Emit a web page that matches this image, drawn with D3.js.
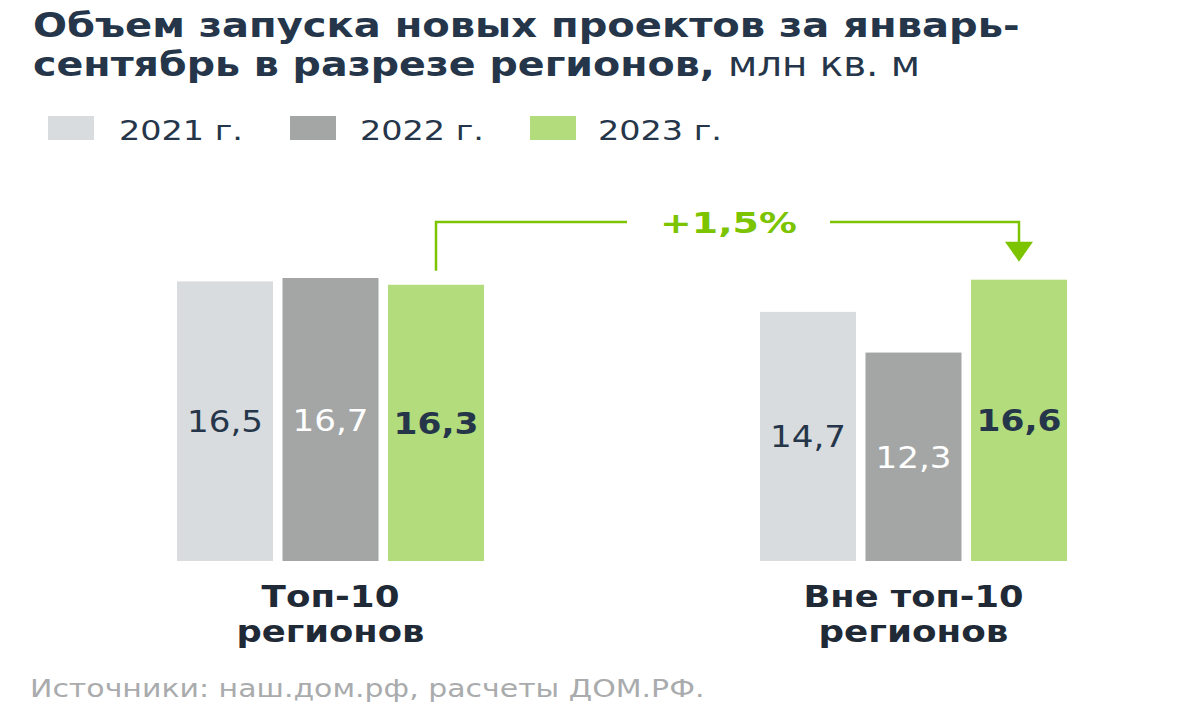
<!DOCTYPE html>
<html><head><meta charset="utf-8">
<script src="https://cdn.jsdelivr.net/npm/d3@7"></script>
<style>body{margin:0;background:#fff}svg{display:block}</style>
</head><body>
<script>
const categories = ["Топ-10 регионов", "Вне топ-10 регионов"];
const categoryLines = [["Топ-10", "регионов"], ["Вне топ-10", "регионов"]];
const years = ["2021 г.", "2022 г.", "2023 г."];
const values2021 = [16.5, 14.7];
const values2022 = [16.7, 12.3];
const values2023 = [16.3, 16.6];
const growthLabel = "+1,5%";
const colors = ["#d9dcdf", "#a3a6a5", "#b3dc7c"];
const labelColors = ["#26364a", "#ffffff", "#26364a"];
const labelWeights = ["normal", "normal", "bold"];
const green = "#7cc400";
const dark = "#26364a";

const series = [values2021, values2022, values2023];
const W = 1200, H = 723;
const svg = d3.select("body").append("svg").attr("width", W).attr("height", H);

const x0 = d3.scaleBand().domain(categories).range([177, 1067]).paddingInner(0.4734).paddingOuter(0);
const x1 = d3.scaleBand().domain(years).range([0, x0.bandwidth()]).paddingInner(0.09).paddingOuter(0);
const y = d3.scaleLinear().domain([0, 16.7]).range([561, 278]);

const font = "'DejaVu Sans', Verdana, sans-serif";

// text drawn at natural glyph shapes, then stretched horizontally to the measured width
function txt(x, yy, s, size, weight, fill, len, anchor) {
  const t = svg.append("text").attr("x", 0).attr("y", 0).attr("font-family", font)
    .attr("font-size", size).attr("font-weight", weight).attr("fill", fill)
    .attr("text-anchor", anchor || "start").text(s);
  const w = t.node().getComputedTextLength();
  const sx = len && w ? len / w : 1;
  t.attr("transform", `translate(${x},${yy}) scale(${sx},1)`);
  return t;
}

// Title
txt(33, 37, "Объем запуска новых проектов за январь-", 33, "bold", dark, 987);
txt(33, 76, "сентябрь в разрезе регионов,", 33, "bold", dark, 682);
txt(728, 76, "млн кв. м", 33, "normal", dark, 192);

// Legend
const legX = [48, 290, 530];
const legTX = [119, 360, 598];
years.forEach((yr, i) => {
  svg.append("rect").attr("x", legX[i]).attr("y", 116).attr("width", 46).attr("height", 24).attr("fill", colors[i]);
  txt(legTX[i], 140, yr, 27, "normal", dark, 124);
});

// Bars
categories.forEach((cat, ci) => {
  years.forEach((yr, yi) => {
    const v = series[yi][ci];
    const bx = x0(cat) + x1(yr);
    svg.append("rect").attr("x", bx).attr("y", y(v)).attr("width", x1.bandwidth())
      .attr("height", y(0) - y(v)).attr("fill", colors[yi]);
    txt(bx + x1.bandwidth() / 2, (y(v) + y(0)) / 2 + 11, d3.format(".1f")(v).replace(".", ","),
      30, labelWeights[yi], labelColors[yi], labelWeights[yi] === "bold" ? 85 : 76, "middle");
  });
  const lens = [[138, 188], [220, 190]];
  categoryLines[ci].forEach((ln, li) => {
    txt(x0(cat) + x0.bandwidth() / 2, 607 + li * 35, ln, 30, "bold", "#1f2a36", lens[ci][li], "middle");
  });
});

// Annotation
const ax = x0(categories[0]) + x1(years[2]) + x1.bandwidth() / 2;
const bx2 = x0(categories[1]) + x1(years[2]) + x1.bandwidth() / 2;
const lineY = 222;
const startY = y(values2023[0]) - 14;
const tipY = y(values2023[1]) - 18;
svg.append("path").attr("d", `M${ax},${startY}V${lineY}H627`).attr("fill", "none")
  .attr("stroke", green).attr("stroke-width", 2.5);
svg.append("path").attr("d", `M830,${lineY}H${bx2}V${tipY - 16}`).attr("fill", "none")
  .attr("stroke", green).attr("stroke-width", 2.5);
svg.append("path").attr("d", `M${bx2 - 14},${tipY - 20}L${bx2 + 14},${tipY - 20}L${bx2},${tipY}Z`).attr("fill", green);
txt(660, 233, growthLabel, 29, "bold", green, 137);

// Source
txt(30, 697, "Источники: наш.дом.рф, расчеты ДОМ.РФ.", 25, "normal", "#a9abad", 675);
</script>
</body></html>
